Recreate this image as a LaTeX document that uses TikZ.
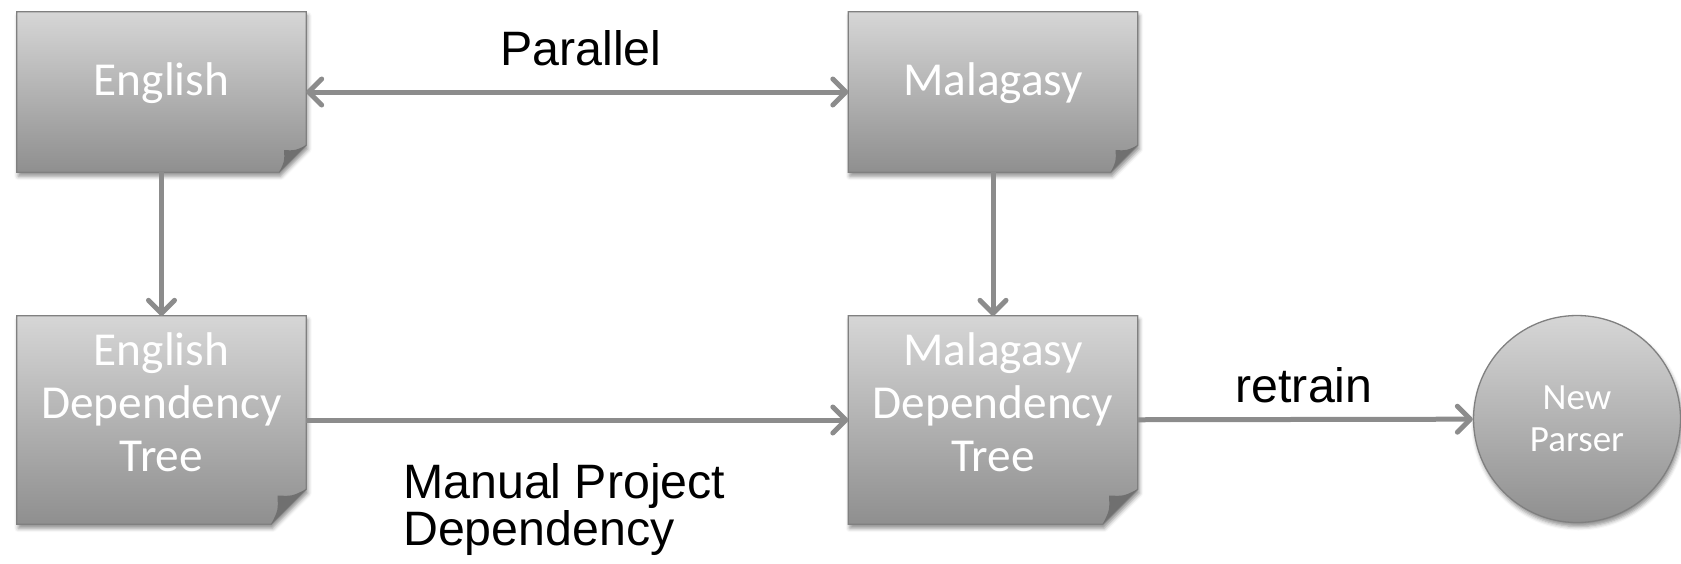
\documentclass[tikz,border=0pt]{standalone}
\usepackage{fontspec}
\setmainfont{Liberation Sans}
\newfontfamily\calibri{Carlito}
\usetikzlibrary{arrows.meta,shadows.blur}

\definecolor{sheettop}{RGB}{214,214,214}
\definecolor{sheetbot}{RGB}{143,143,143}
\definecolor{sheetedge}{RGB}{128,128,128}
\definecolor{foldcol}{RGB}{112,112,112}
\definecolor{linkcol}{RGB}{140,140,140}

\tikzset{
  sheet/.style={rectangle, inner sep=0pt, minimum width=289pt, minimum height=#1},
  sheettext/.style={text=white, inner sep=0pt, align=center, anchor=base,
    font=\calibri\fontsize{47.3}{53}\selectfont},
  sheetfill/.style={top color=sheettop, bottom color=sheetbot, draw=sheetedge,
    line width=1.3pt,
    blur shadow={shadow xshift=1.5pt, shadow yshift=-4pt,
      shadow blur radius=4pt, shadow opacity=45}},
  tip/.tip={Straight Barb[length=13pt, width=26pt, round]},
  link/.style={draw=linkcol, line width=5pt, -tip},
  caption/.style={font=\fontsize{48.3}{47}\selectfont, text=black, inner sep=0pt},
}

% paper sheet on a node: cut-off lower right corner with a curled fold
\newcommand\sheetbg[2]{%
  \path[sheetfill] (#1.north west) -- (#1.north east)
    -- ([yshift=#2]#1.south east) -- ([xshift=-#2]#1.south east)
    -- (#1.south west) -- cycle;
  \fill[foldcol] ([xshift=-#2]#1.south east)
    .. controls ([xshift=-0.8*#2, yshift=0.4*#2]#1.south east)
    .. ([xshift=-0.82*#2, yshift=0.82*#2]#1.south east)
    .. controls ([xshift=-0.4*#2, yshift=0.8*#2]#1.south east)
    .. ([yshift=#2]#1.south east) -- cycle;
}

\begin{document}
\begin{tikzpicture}[x=1pt, y=-1pt]
  \useasboundingbox (0,0) rectangle (1681,563);

  % document frames
  \node[sheet=160pt] (en) at (161.5,92) {};
  \node[sheet=160pt] (mg) at (993,92) {};
  \node[sheet=208pt] (ent) at (161.5,420) {};
  \node[sheet=208pt] (mgt) at (993,420) {};
  \sheetbg{en}{27pt}
  \sheetbg{mg}{27pt}
  \sheetbg{ent}{35pt}
  \sheetbg{mgt}{35pt}

  % document texts (base = baseline of the last line)
  \node[sheettext] (en-t) at ([yshift=-3pt]en.center) {English};
  \node[sheettext] (mg-t) at ([yshift=-3pt]mg.center) {Malagasy};
  \node[sheettext] (ent-t) at ([yshift=-51pt]ent.center) {English\\Dependency\\Tree};
  \node[sheettext] (mgt-t) at ([yshift=-51pt]mgt.center) {Malagasy\\Dependency\\Tree};

  % resulting parser
  \node[circle, sheetfill, minimum size=207pt, inner sep=0pt, text=white, align=center,
        font=\calibri\fontsize{37}{42}\selectfont] (np) at (1577,419) {New\\Parser};

  % connectors
  \draw[link, tip-tip] (en) -- (mg);
  \draw[link] (en) -- (ent);
  \draw[link] (mg) -- (mgt);
  \draw[link] (ent) -- (mgt);
  \draw[link] (mgt) -- (np);

  % captions
  \node[caption, anchor=base] (par) at (581,65) {Parallel};
  \node[caption, anchor=base] (ret) at (1304,402) {retrain};
  \node[caption, anchor=base west, align=left] (mpd) at (403,545) {Manual Project\\Dependency};
\end{tikzpicture}
\end{document}
